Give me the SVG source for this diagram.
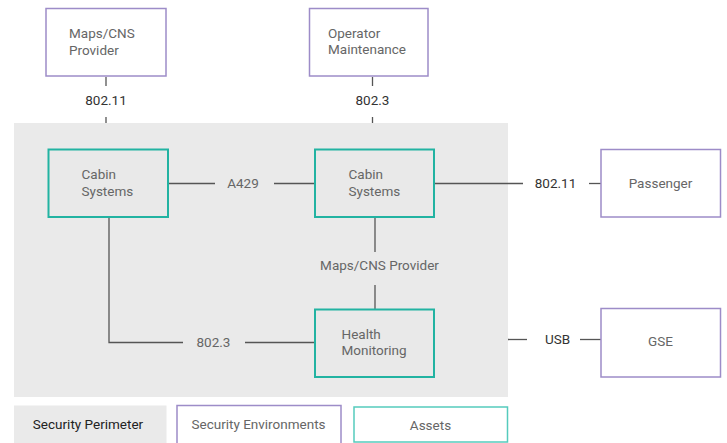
<svg xmlns="http://www.w3.org/2000/svg" width="727" height="443" viewBox="0 0 727 443">
  <style>
    text { font-family: Roboto, "Liberation Sans", Arial, sans-serif; font-size: 13.5px; }
    .env { fill: #ffffff; stroke: #9d8cc8; stroke-width: 1.5; }
    .asset { fill: #e9e9e9; stroke: #22b3a2; stroke-width: 2; }
    .node-text { fill: #666666; }
    .label { fill: #333333; }
    .wire { stroke: #555555; stroke-width: 1.3; fill: none; }
    .perimeter { fill: #eaeaea; }
  </style>

  <rect x="0" y="0" width="727" height="443" fill="#ffffff"/>

  <!-- security perimeter -->
  <rect id="perimeter" class="perimeter" x="14" y="123" width="494" height="274"/>

  <!-- connectors -->
  <g id="connectors">
    <line class="wire" x1="106" y1="77" x2="106" y2="86"/>
    <line class="wire" x1="106" y1="117" x2="106" y2="123"/>
    <text class="label" x="106" y="105" text-anchor="middle">802.11</text>

    <line class="wire" x1="372.5" y1="77" x2="372.5" y2="86"/>
    <line class="wire" x1="372.5" y1="117" x2="372.5" y2="123"/>
    <text class="label" x="372.5" y="105" text-anchor="middle">802.3</text>

    <line class="wire" x1="168" y1="183.5" x2="215" y2="183.5"/>
    <line class="wire" x1="274" y1="183.5" x2="315" y2="183.5"/>
    <text class="node-text" x="243" y="188" text-anchor="middle">A429</text>

    <line class="wire" x1="434" y1="183.5" x2="523" y2="183.5"/>
    <line class="wire" x1="589" y1="183.5" x2="601" y2="183.5"/>
    <text class="label" x="555.5" y="188" text-anchor="middle">802.11</text>

    <line class="wire" x1="375" y1="217" x2="375" y2="252"/>
    <line class="wire" x1="375" y1="285" x2="375" y2="309"/>
    <text class="node-text" x="379.5" y="270" text-anchor="middle">Maps/CNS Provider</text>

    <polyline class="wire" points="109,217 109,342.5 183,342.5"/>
    <line class="wire" x1="245" y1="342.5" x2="315" y2="342.5"/>
    <text class="node-text" x="213.5" y="347" text-anchor="middle">802.3</text>

    <line class="wire" x1="508" y1="339.5" x2="527" y2="339.5"/>
    <line class="wire" x1="580" y1="339.5" x2="601" y2="339.5"/>
    <text class="label" x="557.5" y="344" text-anchor="middle">USB</text>
  </g>

  <!-- security environments -->
  <g id="maps-cns-provider">
    <rect class="env" x="46" y="8.5" width="120" height="67.5"/>
    <text class="node-text" x="69" y="38">Maps/CNS</text>
    <text class="node-text" x="69" y="55">Provider</text>
  </g>

  <g id="operator-maintenance">
    <rect class="env" x="309.5" y="8.5" width="118.5" height="67.5"/>
    <text class="node-text" x="328" y="37.5">Operator</text>
    <text class="node-text" x="328" y="54">Maintenance</text>
  </g>

  <g id="passenger">
    <rect class="env" x="601" y="149.5" width="119.5" height="67.5"/>
    <text class="node-text" x="660.5" y="188" text-anchor="middle">Passenger</text>
  </g>

  <g id="gse">
    <rect class="env" x="601" y="308.5" width="119.5" height="68.5"/>
    <text class="node-text" x="660.5" y="346" text-anchor="middle">GSE</text>
  </g>

  <!-- assets -->
  <g id="cabin-systems-1">
    <rect class="asset" x="48.5" y="149.5" width="119.5" height="67.5"/>
    <text class="node-text" x="81.5" y="179">Cabin</text>
    <text class="node-text" x="81.5" y="195.5">Systems</text>
  </g>

  <g id="cabin-systems-2">
    <rect class="asset" x="315" y="149.5" width="119" height="67.5"/>
    <text class="node-text" x="348.5" y="179">Cabin</text>
    <text class="node-text" x="348.5" y="195.5">Systems</text>
  </g>

  <g id="health-monitoring">
    <rect class="asset" x="315" y="309.5" width="119" height="67.5"/>
    <text class="node-text" x="341.5" y="338.5">Health</text>
    <text class="node-text" x="341.5" y="355">Monitoring</text>
  </g>

  <!-- legend -->
  <g id="legend">
    <rect class="perimeter" x="14" y="405.5" width="152.5" height="40"/>
    <text x="88" y="429" text-anchor="middle" fill="#222222">Security Perimeter</text>
    <rect x="177" y="405.5" width="164" height="40" fill="#ffffff" stroke="#9d8cc8" stroke-width="1.5"/>
    <text class="node-text" x="258.5" y="429" text-anchor="middle">Security Environments</text>
    <rect x="354" y="407" width="153.5" height="35" fill="#ffffff" stroke="#55cbbd" stroke-width="1.5"/>
    <text class="node-text" x="430.5" y="430" text-anchor="middle">Assets</text>
  </g>
</svg>
